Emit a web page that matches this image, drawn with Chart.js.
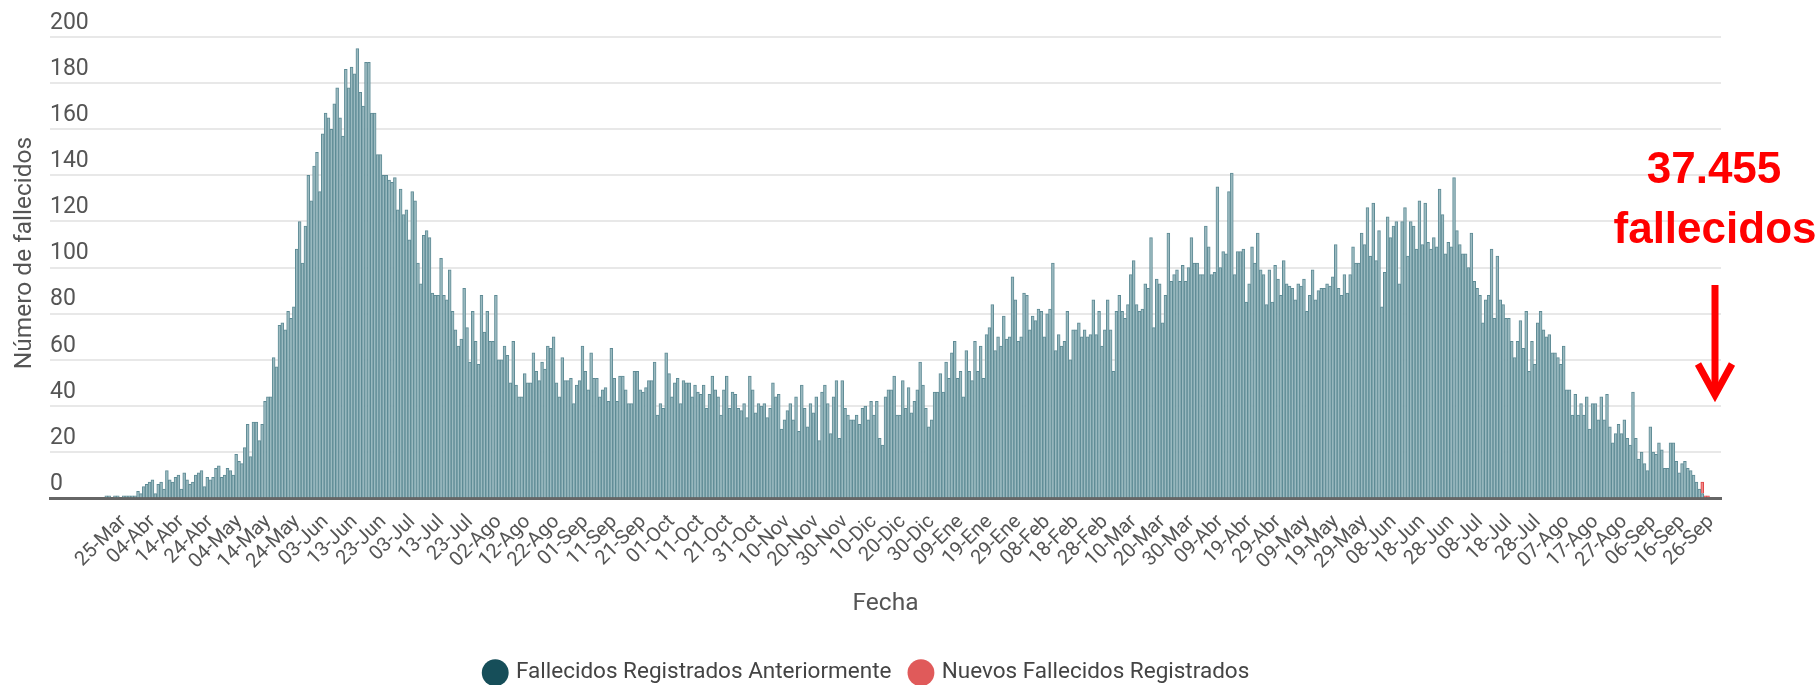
<!DOCTYPE html>
<html lang="es">
<head>
<meta charset="utf-8">
<title>Fallecidos</title>
<script src="https://cdn.jsdelivr.net/npm/chart.js@4.4.0/dist/chart.umd.min.js"></script>
<style>
  html, body { margin: 0; padding: 0; background: #fff; }
  #wrap { position: relative; width: 1817px; height: 685px; }
</style>
</head>
<body>
<div id="wrap"><canvas id="grafico"></canvas></div>
<script>
// serie diaria desde el 29-Feb-2020 hasta el 29-Sep-2021
const fechaInicio = Date.UTC(2020, 1, 29);
const meses = ['Ene', 'Feb', 'Mar', 'Abr', 'May', 'Jun', 'Jul', 'Ago', 'Sep', 'Oct', 'Nov', 'Dic'];
const primeraEtiqueta = 25; // 25-Mar
const pasoEtiquetas = 10;

const fallecidosAnteriores = [
  0, 0, 0, 0, 0, 0, 0, 0, 0, 0,
  0, 0, 0, 0, 0, 0, 0, 0, 0, 1,
  1, 0, 1, 1, 0, 1, 1, 1, 1, 1,
  3, 2, 5, 6, 7, 8, 2, 6, 7, 4,
  12, 8, 7, 9, 10, 4, 11, 8, 6, 7,
  10, 11, 12, 5, 9, 8, 9, 13, 14, 9,
  10, 13, 12, 10, 19, 16, 15, 22, 32, 18,
  33, 33, 25, 32, 42, 44, 44, 61, 57, 75,
  76, 73, 81, 78, 83, 108, 120, 102, 118, 140,
  129, 144, 150, 133, 158, 167, 165, 160, 171, 178,
  165, 157, 186, 178, 187, 184, 195, 176, 170, 189,
  189, 167, 167, 149, 149, 140, 140, 138, 137, 139,
  125, 134, 123, 125, 112, 133, 129, 102, 93, 114,
  116, 113, 89, 88, 88, 104, 88, 86, 99, 81,
  73, 66, 69, 91, 74, 59, 81, 68, 58, 88,
  72, 81, 68, 68, 88, 60, 60, 66, 62, 50,
  68, 49, 44, 44, 54, 50, 50, 63, 55, 51,
  59, 56, 66, 65, 70, 50, 44, 61, 51, 51,
  52, 41, 49, 51, 66, 55, 47, 63, 52, 52,
  44, 47, 48, 42, 65, 52, 42, 53, 53, 47,
  41, 41, 55, 55, 47, 46, 48, 51, 51, 59,
  36, 41, 39, 63, 54, 44, 50, 52, 41, 51,
  50, 50, 44, 49, 46, 45, 49, 39, 45, 53,
  47, 44, 36, 47, 53, 39, 46, 45, 39, 38,
  41, 35, 53, 47, 37, 41, 40, 41, 35, 39,
  50, 44, 45, 30, 34, 38, 41, 34, 44, 29,
  49, 39, 31, 41, 37, 44, 25, 46, 49, 41,
  28, 44, 51, 26, 51, 39, 36, 34, 34, 36,
  32, 39, 40, 34, 42, 36, 42, 26, 23, 44,
  47, 47, 53, 36, 36, 51, 39, 48, 37, 42,
  47, 59, 49, 39, 31, 34, 46, 46, 54, 46,
  59, 52, 63, 68, 52, 55, 44, 64, 55, 51,
  68, 55, 66, 52, 71, 74, 84, 64, 70, 66,
  79, 69, 70, 96, 86, 68, 70, 89, 88, 73,
  79, 77, 82, 81, 70, 80, 82, 102, 64, 71,
  66, 68, 81, 60, 73, 73, 76, 70, 73, 70,
  71, 86, 71, 81, 66, 73, 86, 73, 55, 81,
  88, 81, 78, 84, 97, 103, 84, 81, 82, 93,
  91, 113, 74, 95, 93, 76, 88, 115, 94, 97,
  99, 94, 101, 94, 100, 113, 102, 102, 97, 97,
  118, 109, 97, 98, 135, 100, 107, 106, 133, 141,
  97, 107, 107, 108, 85, 93, 109, 102, 115, 99,
  97, 84, 99, 85, 101, 95, 88, 103, 93, 92,
  91, 86, 93, 92, 95, 81, 88, 99, 86, 90,
  91, 91, 93, 92, 96, 110, 91, 88, 97, 89,
  97, 109, 102, 102, 115, 110, 126, 105, 128, 103,
  116, 83, 98, 122, 113, 118, 120, 93, 120, 126,
  105, 120, 118, 108, 129, 110, 128, 111, 108, 113,
  109, 134, 123, 106, 111, 109, 139, 116, 110, 106,
  106, 100, 115, 94, 91, 88, 76, 86, 88, 108,
  78, 105, 86, 84, 78, 78, 68, 61, 68, 77,
  65, 81, 55, 68, 58, 76, 81, 73, 70, 71,
  63, 63, 61, 58, 66, 47, 47, 36, 45, 36,
  41, 36, 44, 30, 41, 41, 34, 44, 34, 45,
  31, 24, 28, 32, 28, 34, 26, 23, 46, 26,
  17, 20, 15, 12, 31, 20, 19, 24, 21, 13,
  13, 24, 24, 16, 11, 15, 16, 13, 12, 10,
  7, 4, 2, 0, 0, 0, 0, 0, 0
];

const nuevosFechas = ['2021-09-23', '2021-09-24', '2021-09-25'];
const nuevosValores = [5, 1, 1];

const totalTexto = '37.455';
const tituloY = 'Número de fallecidos';

const fechasISO = [];
const etiquetas = [];
for (let i = 0; i < fallecidosAnteriores.length; i++) {
  const d = new Date(fechaInicio + i * 86400000);
  fechasISO.push(d.toISOString().slice(0, 10));
  etiquetas.push(String(d.getUTCDate()).padStart(2, '0') + '-' + meses[d.getUTCMonth()]);
}
const nuevosFallecidos = fechasISO.map(f => {
  const k = nuevosFechas.indexOf(f);
  return k >= 0 ? nuevosValores[k] : 0;
});

// titulo del eje Y (un poco sobre el centro, como en el original) + anotacion roja
const anotacion = {
  id: 'anotacion',
  afterDraw(chart) {
    const c = chart.ctx;
    c.save();
    c.translate(25, 253);
    c.rotate(-Math.PI / 2);
    c.fillStyle = '#555';
    c.font = '24.5px Roboto';
    c.textAlign = 'center';
    c.textBaseline = 'middle';
    c.fillText(tituloY, 0, 0);
    c.restore();

    c.save();
    c.fillStyle = '#ff0000';
    c.strokeStyle = '#ff0000';
    c.textAlign = 'center';
    c.textBaseline = 'alphabetic';
    c.font = 'bold 44px "Liberation Sans", Arial, sans-serif';
    c.fillText(totalTexto, 1714, 183);
    c.fillText('fallecidos', 1715, 243);
    c.lineWidth = 7;
    c.lineJoin = 'miter';
    c.beginPath();
    c.moveTo(1715, 285);
    c.lineTo(1715, 394);
    c.stroke();
    c.beginPath();
    c.moveTo(1698, 364);
    c.lineTo(1715, 395);
    c.lineTo(1732, 364);
    c.stroke();
    c.restore();
  }
};

const ctx = document.getElementById('grafico').getContext('2d');
const grafico = new Chart(ctx, {
  type: 'bar',
  data: {
    labels: etiquetas,
    datasets: [
      {
        label: 'Fallecidos Registrados Anteriormente',
        data: fallecidosAnteriores,
        backgroundColor: '#9bbac0',
        borderColor: '#5e8b95',
        borderWidth: 1,
        barPercentage: 1,
        categoryPercentage: 1
      },
      {
        label: 'Nuevos Fallecidos Registrados',
        data: nuevosFallecidos,
        backgroundColor: '#f08a8a',
        borderColor: '#e04848',
        borderWidth: 1,
        barPercentage: 1,
        categoryPercentage: 1
      }
    ]
  },
  options: {
    responsive: true,
    maintainAspectRatio: false,
    animation: false,
    layout: { padding: { left: 14, right: 96, top: 37, bottom: -9 } },
    plugins: {
      tooltip: { enabled: false },
      legend: {
        position: 'bottom',
        labels: {
          usePointStyle: true,
          pointStyle: 'circle',
          boxWidth: 19,
          boxHeight: 19,
          padding: 20,
          color: '#444',
          font: { family: 'Roboto', size: 22.5 },
          generateLabels(chart) {
            const items = Chart.defaults.plugins.legend.labels.generateLabels(chart);
            const colores = ['#164e59', '#e05a5a'];
            items.forEach((it, k) => {
              it.fillStyle = colores[k];
              it.strokeStyle = colores[k];
              it.lineWidth = 0;
            });
            return items;
          }
        }
      }
    },
    scales: {
      x: {
        stacked: true,
        grid: { display: false },
        border: { display: true, color: '#666', width: 3 },
        ticks: {
          autoSkip: false,
          minRotation: 45,
          maxRotation: 45,
          padding: 4,
          color: '#555',
          font: { family: 'Roboto', size: 20 },
          callback(value, index) {
            return (index - primeraEtiqueta) % pasoEtiquetas === 0 && index >= primeraEtiqueta
              ? this.getLabelForValue(value) : '';
          }
        },
        title: {
          display: true,
          text: 'Fecha',
          color: '#555',
          font: { family: 'Roboto', size: 24.5 },
          padding: { top: 11.5, bottom: 23 }
        }
      },
      y: {
        stacked: true,
        min: 0,
        max: 200,
        afterFit(scale) { scale.width = 36; },
        grid: { color: '#e8e8e8', lineWidth: 2, drawTicks: false },
        border: { display: false },
        ticks: {
          stepSize: 20,
          mirror: true,
          padding: 0,
          labelOffset: -14,
          color: '#555',
          font: { family: 'Roboto', size: 23 }
        },
        title: { display: false }
      }
    }
  },
  plugins: [anotacion]
});
</script>
</body>
</html>
